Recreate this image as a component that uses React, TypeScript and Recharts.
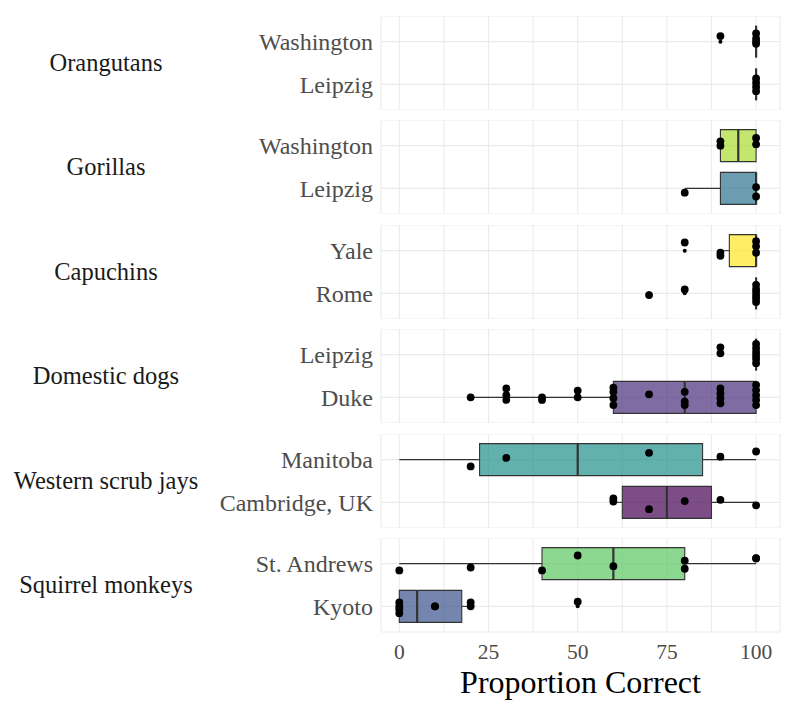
import React from 'react'
import {
  ComposedChart,
  Scatter,
  XAxis,
  YAxis,
  CartesianGrid,
  ReferenceArea,
  ReferenceLine,
} from 'recharts'

// [lower whisker, q1, median, q3, upper whisker]
type Box = [number, number, number, number, number]
// [proportion correct, vertical jitter in row units]
type Pt = [number, number]

const SPECIES = [
  'Orangutans',
  'Gorillas',
  'Capuchins',
  'Domestic dogs',
  'Western scrub jays',
  'Squirrel monkeys',
]

const SITES = [
  ['Washington', 'Leipzig'],
  ['Washington', 'Leipzig'],
  ['Yale', 'Rome'],
  ['Leipzig', 'Duke'],
  ['Manitoba', 'Cambridge, UK'],
  ['St. Andrews', 'Kyoto'],
]

const X_TITLE = 'Proportion Correct'

const BOXES: Box[][] = [
  [[100, 100, 100, 100, 100], [100, 100, 100, 100, 100]],
  [[90, 90, 95, 100, 100], [80, 90, 100, 100, 100]],
  [[90, 92.5, 100, 100, 100], [100, 100, 100, 100, 100]],
  [[100, 100, 100, 100, 100], [20, 60, 80, 100, 100]],
  [[0, 22.5, 50, 85, 100], [60, 62.5, 75, 87.5, 100]],
  [[0, 40, 60, 80, 100], [0, 0, 5, 17.5, 20]],
]

// viridis, drawn at 0.7 alpha
const FILLS = [
  ['#35B779', '#31688E'],
  ['#AADC32', '#2C728E'],
  ['#FDE725', '#482878'],
  ['#90D743', '#472D7B'],
  ['#21908C', '#440154'],
  ['#5DC863', '#3B528B'],
]

const OUTLIERS: number[][][] = [
  [[90], []],
  [[], []],
  [[80], [70, 80]],
  [[90], []],
  [[], []],
  [[], [50]],
]

const orangutanPts: Pt[][] = [
  [[90, -0.13], [100, -0.19], [100, -0.07], [100, 0.0], [100, 0.05]],
  [[100, -0.14], [100, -0.04], [100, 0.06], [100, 0.16]],
]
const gorillaPts: Pt[][] = [
  [[90, -0.1], [90, 0.0], [100, -0.18], [100, -0.03]],
  [[80, 0.1], [100, -0.03], [100, 0.19]],
]
const capuchinPts: Pt[][] = [
  [[80, -0.19], [90, 0.05], [90, 0.12], [100, -0.22], [100, -0.1], [100, 0.05]],
  [[70, 0.04], [80, -0.09], [100, -0.2], [100, -0.1], [100, -0.03], [100, 0.05], [100, 0.12], [100, 0.2]],
]
const dogPts: Pt[][] = [
  [[90, -0.17], [90, -0.03], [100, -0.25], [100, -0.15], [100, -0.06], [100, 0.02], [100, 0.1], [100, 0.2]],
  [
    [20, 0.0], [30, -0.21], [30, -0.05], [30, 0.06], [40, 0.0], [40, 0.06], [50, -0.16], [50, 0.0],
    [60, -0.23], [60, -0.13], [60, 0.02], [60, 0.18], [70, -0.07], [80, -0.13], [80, 0.1], [80, 0.18],
    [90, -0.21], [90, -0.09], [90, 0.02], [90, 0.14],
    [100, -0.29], [100, -0.17], [100, -0.05], [100, 0.06], [100, 0.18],
  ],
]
const jayPts: Pt[][] = [
  [[20, 0.16], [30, -0.04], [70, -0.16], [90, -0.07], [100, -0.19]],
  [[60, -0.09], [60, -0.02], [70, 0.16], [80, -0.03], [90, -0.06], [100, 0.07]],
]
const squirrelPts: Pt[][] = [
  [[0, 0.16], [20, 0.09], [40, 0.16], [50, -0.19], [60, 0.06], [80, -0.07], [80, 0.12], [100, -0.13], [100, -0.12]],
  [[0, -0.09], [0, 0.0], [0, 0.07], [0, 0.16], [10, 0.0], [10, 0.0], [20, -0.09], [20, 0.0], [50, -0.11]],
]
const POINTS = [orangutanPts, gorillaPts, capuchinPts, dogPts, jayPts, squirrelPts]

const X_TICKS = [0, 12.5, 25, 37.5, 50, 62.5, 75, 87.5, 100]
const X_DOMAIN: [number, number] = [-5.13, 106.7]
const Y_DOMAIN: [number, number] = [0.4, 2.6]
const HALF = 0.375

const FONT = '"Liberation Serif", "Times New Roman", serif'
const PANEL_TOP = 16
const PANEL_STEP = 104.4
const PANEL_H = 94
const AXIS_H = 40

const Dot = (p: any) => <circle cx={p.cx} cy={p.cy} r={3.9} fill="#000" />
const SmallDot = (p: any) => <circle cx={p.cx} cy={p.cy} r={2} fill="#000" />

function Facet({ idx }: { idx: number }) {
  const last = idx === SPECIES.length - 1
  const h = PANEL_H + (last ? AXIS_H : 0)
  const pts = POINTS[idx].flatMap((row, r) => row.map(([v, j]) => ({ x: v, y: r + 1 + j })))
  const outs = OUTLIERS[idx].flatMap((row, r) => row.map((v) => ({ x: v, y: r + 1 })))

  return (
    <div
      style={{
        position: 'absolute',
        left: 0,
        top: PANEL_TOP + idx * PANEL_STEP,
        width: 800,
        height: h,
      }}
    >
      <div
        style={{
          position: 'absolute',
          left: 0,
          top: 0,
          width: 212,
          height: PANEL_H,
          display: 'flex',
          alignItems: 'center',
          justifyContent: 'center',
          fontFamily: FONT,
          fontSize: 24.5,
          color: '#1a1a1a',
          whiteSpace: 'nowrap',
        }}
      >
        {SPECIES[idx]}
      </div>
      <ComposedChart width={800} height={h} margin={{ top: 0, right: 20, bottom: 0, left: 0 }}>
        <CartesianGrid stroke="#ebebeb" strokeWidth={1.1} />
        <XAxis
          type="number"
          dataKey="x"
          domain={X_DOMAIN}
          ticks={X_TICKS}
          allowDataOverflow
          hide={!last}
          height={AXIS_H}
          axisLine={false}
          tickLine={false}
          tickSize={0}
          tickMargin={12}
          interval={0}
          tickFormatter={(v: number) => (v % 25 === 0 ? String(v) : '')}
          tick={{ fontFamily: FONT, fontSize: 21.5, fill: '#4d4d4d' }}
        />
        <YAxis
          type="number"
          dataKey="y"
          domain={Y_DOMAIN}
          ticks={[1, 2]}
          reversed
          allowDataOverflow
          width={381}
          axisLine={false}
          tickLine={false}
          interval={0}
          tickFormatter={(v: number) => SITES[idx][v - 1]}
          tick={{ fontFamily: FONT, fontSize: 24, fill: '#4d4d4d' }}
        />
        {BOXES[idx].map(([lo, q1, med, q3, hi], r) => {
          const y = r + 1
          return (
            <React.Fragment key={r}>
              {lo < q1 && (
                <ReferenceLine
                  segment={[{ x: lo, y }, { x: q1, y }]}
                  stroke="#333"
                  strokeWidth={1.1}
                />
              )}
              {hi > q3 && (
                <ReferenceLine
                  segment={[{ x: q3, y }, { x: hi, y }]}
                  stroke="#333"
                  strokeWidth={1.1}
                />
              )}
              {q3 > q1 && (
                <ReferenceArea
                  x1={q1}
                  x2={q3}
                  y1={y - HALF}
                  y2={y + HALF}
                  fill={FILLS[idx][r]}
                  fillOpacity={0.7}
                  stroke="#333"
                  strokeWidth={1.1}
                  strokeOpacity={1}
                />
              )}
              <ReferenceLine
                segment={[{ x: med, y: y - HALF }, { x: med, y: y + HALF }]}
                stroke="#333"
                strokeWidth={2.2}
              />
            </React.Fragment>
          )
        })}
        <Scatter data={outs} shape={SmallDot} isAnimationActive={false} />
        <Scatter data={pts} shape={Dot} isAnimationActive={false} />
      </ComposedChart>
    </div>
  )
}

export default function App() {
  return (
    <div
      style={{
        position: 'absolute',
        left: 0,
        top: 0,
        width: 800,
        height: 711,
        background: '#fff',
        overflow: 'hidden',
      }}
    >
      {SPECIES.map((_, i) => (
        <Facet key={i} idx={i} />
      ))}
      <div
        style={{
          position: 'absolute',
          left: 381,
          width: 399,
          top: 666,
          lineHeight: '32px',
          textAlign: 'center',
          fontFamily: FONT,
          fontSize: 32,
          color: '#000',
          whiteSpace: 'nowrap',
        }}
      >
        {X_TITLE}
      </div>
    </div>
  )
}
